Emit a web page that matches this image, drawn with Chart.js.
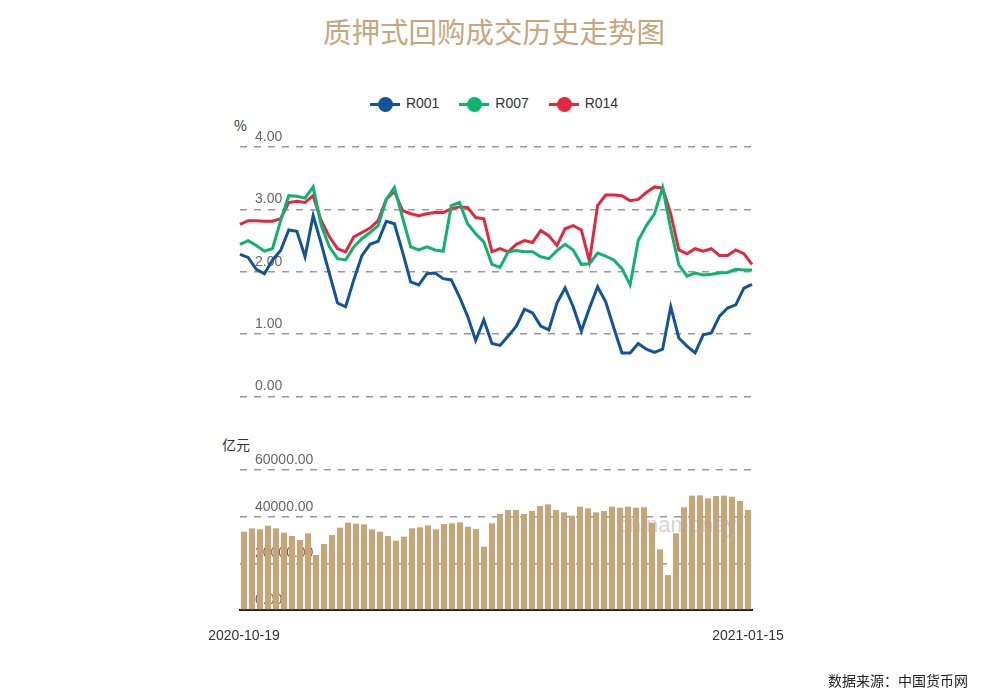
<!DOCTYPE html>
<html><head><meta charset="utf-8">
<script src="https://cdn.jsdelivr.net/npm/chart.js@4"></script>
<style>
body{margin:0;width:988px;height:696px;background:#fff;font-family:"Noto Sans CJK SC",Arial,sans-serif;position:relative;overflow:hidden}
.a{position:absolute}
#title{left:0;width:988px;top:10px;text-align:center;font-size:28.5px;color:#c8a57c}
#legend{top:94px;left:0;width:988px;text-align:center;font-family:Arial,"Liberation Sans";font-size:14px;color:#333}
.li{display:inline-block;margin:0 8px;vertical-align:middle}
.sw{display:inline-block;width:30px;height:3px;position:relative;vertical-align:middle;margin-right:6px}
.sw i{position:absolute;left:8px;top:-6px;width:15px;height:15px;border-radius:50%}
</style></head><body>
<div id="title" class="a">质押式回购成交历史走势图</div>
<div id="legend" class="a">
<span class="li"><span class="sw" style="background:#11549a"><i style="background:#11549a"></i></span>R001</span>
<span class="li"><span class="sw" style="background:#0db46c"><i style="background:#0db46c"></i></span>R007</span>
<span class="li"><span class="sw" style="background:#e5263f"><i style="background:#e5263f"></i></span>R014</span>
</div>
<div class="a" style="left:234px;top:115px;font-size:14px;color:#333">%</div>
<div class="a" style="left:222px;top:434px;font-size:14px;color:#333">亿元</div>
<div class="a" style="left:0;top:0;width:988px;height:420px"><canvas id="c1"></canvas></div>
<div class="a" style="left:0;top:430px;width:988px;height:266px"><canvas id="c2"></canvas></div>
<div class="a" style="left:618px;top:512px;font-size:22px;color:rgba(170,170,170,0.5);font-family:Arial">chinamoney</div>
<div class="a" style="left:828px;top:670px;font-size:14px;color:#222">数据来源：中国货币网</div>
<script>
const dates=["2020-10-19","2020-10-20","2020-10-21","2020-10-22","2020-10-23","2020-10-26","2020-10-27","2020-10-28","2020-10-29","2020-10-30",
"2020-11-02","2020-11-03","2020-11-04","2020-11-05","2020-11-06","2020-11-09","2020-11-10","2020-11-11","2020-11-12","2020-11-13",
"2020-11-16","2020-11-17","2020-11-18","2020-11-19","2020-11-20","2020-11-23","2020-11-24","2020-11-25","2020-11-26","2020-11-27","2020-11-30",
"2020-12-01","2020-12-02","2020-12-03","2020-12-04","2020-12-07","2020-12-08","2020-12-09","2020-12-10","2020-12-11",
"2020-12-14","2020-12-15","2020-12-16","2020-12-17","2020-12-18","2020-12-21","2020-12-22","2020-12-23","2020-12-24","2020-12-25",
"2020-12-28","2020-12-29","2020-12-30","2020-12-31",
"2021-01-04","2021-01-05","2021-01-06","2021-01-07","2021-01-08","2021-01-11","2021-01-12","2021-01-13","2021-01-14","2021-01-15"];
const r001=[2.28,2.23,2.04,1.97,2.19,2.34,2.67,2.65,2.24,2.90,2.45,1.97,1.50,1.44,1.87,2.26,2.44,2.49,2.81,2.77,2.32,1.84,1.79,1.97,1.98,1.89,1.87,1.60,1.29,0.90,1.23,0.85,0.82,0.97,1.13,1.40,1.34,1.13,1.07,1.50,1.74,1.44,1.05,1.42,1.76,1.52,1.10,0.70,0.70,0.85,0.76,0.71,0.76,1.44,0.94,0.81,0.70,0.99,1.02,1.29,1.42,1.47,1.74,1.80];
const r007=[2.44,2.50,2.42,2.33,2.37,2.82,3.22,3.21,3.18,3.36,2.74,2.40,2.21,2.19,2.40,2.53,2.63,2.74,3.16,3.35,2.87,2.40,2.35,2.40,2.35,2.33,3.06,3.11,2.77,2.61,2.48,2.12,2.07,2.32,2.34,2.32,2.32,2.24,2.21,2.34,2.44,2.35,2.12,2.13,2.30,2.25,2.19,2.05,1.79,2.50,2.74,2.93,3.35,2.69,2.11,1.93,1.98,1.95,1.96,1.98,1.99,2.04,2.03,2.03];
const r014=[2.76,2.82,2.82,2.81,2.81,2.85,3.11,3.13,3.11,3.22,2.82,2.56,2.37,2.32,2.56,2.63,2.70,2.82,3.16,3.29,2.98,2.93,2.90,2.93,2.95,2.95,3.01,3.04,3.03,2.87,2.85,2.32,2.37,2.32,2.44,2.50,2.47,2.66,2.58,2.42,2.69,2.74,2.67,2.17,3.06,3.23,3.23,3.22,3.14,3.16,3.27,3.36,3.34,2.93,2.35,2.29,2.37,2.33,2.37,2.26,2.26,2.35,2.29,2.12];
const volume=[33571,35000,34571,36143,35000,33143,31714,30000,32857,23571,28286,32143,35286,37429,37000,36714,34571,33571,31714,29714,31429,35000,35429,36286,34571,36857,37143,37571,35714,34714,27143,37143,41143,42857,42857,41143,42429,44571,45286,42857,41857,40429,44286,43571,41857,42429,44286,43857,44286,43857,44000,37429,26000,15000,32857,44000,49000,49143,47857,48857,49000,48571,46714,42857];
const rateTicks=[0,1,2,3,4];
const volTicks=[0,20000,40000,60000];

const gridOpt={color:'#999',lineWidth:1.5,drawTicks:false};
const tickFont={family:'Arial, "Liberation Sans"',size:14};
new Chart(document.getElementById('c1'),{type:'line',
 data:{labels:dates,datasets:[
  {label:'R001',data:r001,borderColor:'#11549a',backgroundColor:'#11549a'},
  {label:'R007',data:r007,borderColor:'#0db46c',backgroundColor:'#0db46c'},
  {label:'R014',data:r014,borderColor:'#e5263f',backgroundColor:'#e5263f'}]},
 options:{responsive:true,maintainAspectRatio:false,animation:false,
  layout:{padding:{left:240,right:236,top:147,bottom:22}},
  elements:{point:{radius:0},line:{borderWidth:3,tension:0}},
  plugins:{legend:{display:false},tooltip:{enabled:false}},
  scales:{x:{display:false,offset:false},
   y:{min:0,max:4,afterBuildTicks:s=>{s.ticks=rateTicks.map(v=>({value:v}));},afterFit:s=>{s.width=0;},
    border:{display:false,dash:[7,7]},grid:gridOpt,
    ticks:{mirror:true,padding:15,labelOffset:-10,color:'#666',font:tickFont,callback:v=>v.toFixed(2)}}}}});

new Chart(document.getElementById('c2'),{type:'bar',
 data:{labels:dates,datasets:[{data:volume,backgroundColor:'#c8a477',barPercentage:0.75,categoryPercentage:1}]},
 options:{responsive:true,maintainAspectRatio:false,animation:false,
  layout:{padding:{left:240,right:236,top:40,bottom:56}},
  plugins:{legend:{display:false},tooltip:{enabled:false}},
  scales:{x:{afterFit:s=>{s.height=30;},grid:{display:false},border:{display:true,color:'#222',width:2},
    ticks:{autoSkip:false,maxRotation:0,padding:10,color:'#333',font:tickFont,
     callback:function(v,i){return (i===0||i===dates.length-1)?dates[i]:'';}}},
   y:{min:0,max:60000,afterBuildTicks:s=>{s.ticks=volTicks.map(v=>({value:v}));},afterFit:s=>{s.width=0;},
    border:{display:false,dash:[7,7]},grid:gridOpt,
    ticks:{mirror:true,padding:15,labelOffset:-10,color:'#666',font:tickFont,callback:v=>v.toFixed(2)}}}}});
</script></body></html>
